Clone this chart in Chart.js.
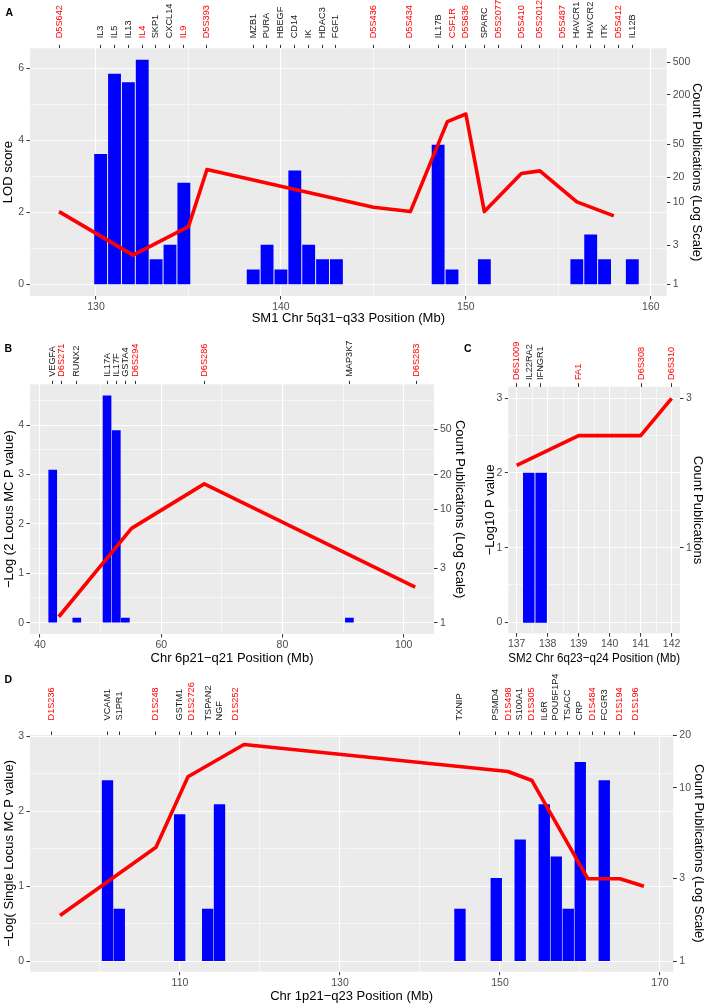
<!DOCTYPE html>
<html><head><meta charset="utf-8">
<script src="https://cdn.jsdelivr.net/npm/chart.js@4.4.1/dist/chart.umd.min.js"></script>
<style>
html,body{margin:0;padding:0;background:#fff;width:708px;height:1007px;overflow:hidden;}
body{position:relative;font-family:"Liberation Sans",Arial,sans-serif;}
canvas{position:absolute;}
.lab{position:absolute;font-weight:bold;font-size:10.5px;line-height:11px;color:#000;font-family:"Liberation Sans",Arial,sans-serif;}
</style></head><body>
<canvas id="cA" width="708" height="330" style="left:0;top:0"></canvas>
<canvas id="cB" width="470" height="342" style="left:0;top:330px"></canvas>
<canvas id="cC" width="238" height="342" style="left:470px;top:330px"></canvas>
<canvas id="cD" width="708" height="335" style="left:0;top:672px"></canvas>
<div class="lab" style="left:5.5px;top:6.5px">A</div>
<div class="lab" style="left:4.5px;top:343.3px">B</div>
<div class="lab" style="left:464px;top:342.6px">C</div>
<div class="lab" style="left:4.5px;top:674px">D</div>
<script>
// ---------- Panel A data ----------
const genesA = ['D5S642','IL3','IL5','IL13','IL4','SKP1','CXCL14','IL9','D5S393','MZB1','PURA','HBEGF','CD14','IK','HDAC3','FGF1','D5S436','D5S434','IL17B','CSF1R','D5S636','SPARC','D5S2077','D5S410','D5S2012','D5S487','HAVCR1','HAVCR2','ITK','D5S412','IL12B'];
const genePosA = [128.02,130.24,130.98,131.73,132.49,133.23,133.98,134.73,135.98,138.50,139.24,139.99,140.75,141.49,142.23,142.97,144.99,146.97,148.50,149.26,150.00,150.99,151.75,153.01,154.00,155.21,155.97,156.73,157.50,158.27,159.01];
const markerA = [1,0,0,0,1,0,0,1,1,0,0,0,0,0,0,0,1,1,0,1,1,0,1,1,1,1,0,0,0,1,0];
const barPosA = [130.25,131.0,131.75,132.5,133.25,134.0,134.75,138.5,139.25,140.0,140.75,141.5,142.25,143.0,148.5,149.25,151.0,156.0,156.75,157.5,159.0];
const barCountA = [38,359,282,531,2,3,17,1.5,3,1.5,24,3,2,2,49,1.5,2,2,4,2,2];
const linePosA = [128.0,132.0,135.0,136.0,145.0,147.0,149.0,150.0,151.0,153.0,154.0,156.0,158.0];
const lineLodA = [2.02,0.81,1.6,3.19,2.14,2.02,4.52,4.73,2.02,3.08,3.15,2.29,1.9];
const xTicksA = [130,135,140,145,150,155,160];
const yTicksA = [0,1,2,3,4,5,6];
const y2TicksA = [1,3,10,20,50,200,500];

// ---------- Panel B data ----------
const genesB = ['VEGFA','D6S271','RUNX2','IL17A','IL17F','GSTA4','D6S294','D6S286','MAP3K7','D6S283'];
const genePosB = [42.03,43.58,46.06,51.11,52.66,54.14,55.68,67.06,91.04,102.05];
const markerB = [0,1,0,0,0,0,1,1,0,1];
const barPosB = [42.1,46.07,51.06,52.59,54.08,91.04];
const barCountB = [22,1.1,99,49,1.1,1.1];
const linePosB = [43.1,55.1,67.1,101.9];
const linePB = [0.12,1.91,2.81,0.72];
const xTicksB = [40,50,60,70,80,90,100];
const yTicksB = [0,0.5,1,1.5,2,2.5,3,3.5,4,4.5];
const y2TicksB = [1,3,10,20,50];

// ---------- Panel C data ----------
const genesC = ['D6S1009','IL22RA2','IFNGR1','FA1','D6S308','D6S310'];
const genePosC = [137.0,137.41,137.78,139.0,141.03,142.0];
const markerC = [1,0,0,1,1,1];
const barPosC = [137.39,137.79];
const barCountC = [2,2];
const linePosC = [137,139,141,142];
const linePC = [2.1,2.5,2.5,3.0];
const xTicksC = [137,137.5,138,138.5,139,139.5,140,140.5,141,141.5,142];
const yTicksC = [0,0.5,1,1.5,2,2.5,3];
const y2TicksC = [1,3];

// ---------- Panel D data ----------
const genesD = ['D1S236','VCAM1','S1PR1','D1S248','GSTM1','D1S2726','TSPAN2','NGF','D1S252','TXNIP','PSMD4','D1S498','S100A1','D1S305','IL6R','POU5F1P4','TSACC','CRP','D1S484','FCGR3','D1S194','D1S196'];
const genePosD = [93.96,100.91,102.41,106.96,109.91,111.46,113.5,114.91,116.96,144.91,149.46,151.04,152.5,153.96,155.54,157.0,158.46,160.0,161.54,163.12,164.91,166.88];
const markerD = [1,0,0,1,0,1,0,0,1,0,0,1,0,1,0,0,0,0,1,0,1,1];
const barPosD = [100.94,102.41,109.96,113.46,114.94,145.0,149.54,152.53,155.54,157.04,158.54,160.04,163.04];
const barCountD = [11,2,7,2,8,2,3,5,8,4,2,14,11];
const linePosD = [95,107,111,118,151,154,161,165,168];
const linePD = [0.61,1.52,2.46,2.89,2.53,2.41,1.10,1.10,1.0];
const xTicksD = [100,110,120,130,140,150,160,170];
const yTicksD = [0,0.5,1,1.5,2,2.5,3];
const y2TicksD = [1,3,10,20];

// ---------- drawing ----------
const FONT = '"Liberation Sans", Arial, sans-serif';
const TICK_TXT = '#4D4D4D';
const TICK_MARK = '#333333';
const MINUS = '\u2212';
const GENE_FONT = 9.2;

function isMajor(v, step, off) {
  const q = (v - (off || 0)) / step;
  return Math.abs(q - Math.round(q)) < 1e-6;
}

const bgPlugin = {
  id: 'panelBg',
  beforeDraw(chart) {
    const a = chart.chartArea, ctx = chart.ctx;
    ctx.save();
    ctx.fillStyle = '#EBEBEB';
    ctx.fillRect(a.left, a.top, a.right - a.left, a.bottom - a.top);
    ctx.restore();
  }
};

function build(p) {
  const cv = document.getElementById(p.id);
  const W = cv.width, H = cv.height;
  const tickFont = {family: FONT, size: 10.5};
  const titleFont = {family: FONT, size: 13};
  new Chart(cv, {
    type: 'bar',
    data: {
      datasets: [
        {
          type: 'line',
          data: p.lineX.map((x, i) => ({x: x, y: p.lineY[i]})),
          xAxisID: 'x', yAxisID: 'y',
          borderColor: '#FF0000', borderWidth: 3.6,
          pointRadius: 0, tension: 0, fill: false,
          borderCapStyle: 'butt', borderJoinStyle: 'round', order: 0
        },
        {
          type: 'bar',
          data: p.barX.map((x, i) => ({x: x, y: p.barY[i]})),
          xAxisID: 'x', yAxisID: 'y2',
          backgroundColor: '#0000FF', borderWidth: 0,
          barThickness: p.barW, base: p.barBase, order: 1
        }
      ]
    },
    options: {
      responsive: false, animation: false, events: [],
      layout: {padding: 0, autoPadding: false},
      plugins: {legend: {display: false}, tooltip: {enabled: false}},
      scales: {
        x: {
          type: 'linear', position: 'bottom', min: p.xMin, max: p.xMax,
          offset: false, bounds: 'data',
          afterBuildTicks: s => { s.ticks = p.xTicks.map(v => ({value: v})); },
          afterFit: s => { s.height = H - p.box.b; },
          ticks: {
            autoSkip: false, maxRotation: 0, minRotation: 0, padding: 1.5,
            color: TICK_TXT, font: tickFont,
            callback: v => isMajor(v, p.xMajor, p.xOff) ? String(v) : ''
          },
          grid: {
            offset: false, color: '#FFFFFF',
            lineWidth: c => (c.tick && isMajor(c.tick.value, p.xMajor, p.xOff)) ? 1.1 : 0.55,
            tickLength: 3.5, tickWidth: 1,
            tickColor: c => (c.tick && isMajor(c.tick.value, p.xMajor, p.xOff)) ? TICK_MARK : 'rgba(0,0,0,0)'
          },
          border: {display: false},
          title: {display: true, text: p.xTitle, color: '#000', font: titleFont, padding: {top: 0, bottom: p.xTitlePad}}
        },
        x2: {
          type: 'linear', position: 'top', min: p.xMin, max: p.xMax,
          offset: false, bounds: 'data',
          afterBuildTicks: s => { s.ticks = p.genePos.map(v => ({value: v})); },
          afterFit: s => { s.height = p.box.t; },
          ticks: {
            autoSkip: false, minRotation: 90, maxRotation: 90, padding: p.topPad,
            labelOffset: GENE_FONT * 1.2,
            color: c => p.marker[c.index] ? '#FF0000' : '#1A1A1A',
            font: {family: FONT, size: GENE_FONT},
            callback: (v, i) => p.genes[i]
          },
          grid: {offset: false, drawOnChartArea: false, tickLength: 3.5, tickWidth: 1, tickColor: TICK_MARK},
          border: {display: false}
        },
        y: {
          type: 'linear', position: 'left', min: p.yMin, max: p.yMax, bounds: 'data',
          afterBuildTicks: s => { s.ticks = p.yTicks.map(v => ({value: v})); },
          afterFit: s => { s.width = p.box.l; },
          ticks: {
            autoSkip: false, padding: 2.5, color: TICK_TXT, font: tickFont,
            callback: v => isMajor(v, p.yMajor, 0) ? String(v) : ''
          },
          grid: {
            color: '#FFFFFF',
            lineWidth: c => (c.tick && isMajor(c.tick.value, p.yMajor, 0)) ? 1.1 : 0.55,
            tickLength: 3.5, tickWidth: 1,
            tickColor: c => (c.tick && isMajor(c.tick.value, p.yMajor, 0)) ? TICK_MARK : 'rgba(0,0,0,0)'
          },
          border: {display: false},
          title: {display: true, text: p.yTitle, color: '#000', font: titleFont, padding: {top: p.yTitlePad, bottom: 0}}
        },
        y2: {
          type: p.y2Type, position: 'right', min: p.y2Min, max: p.y2Max, bounds: 'data',
          afterBuildTicks: s => { s.ticks = p.y2Ticks.map(v => ({value: v})); },
          afterFit: s => { s.width = W - p.box.r; },
          ticks: {autoSkip: false, padding: 2.5, color: TICK_TXT, font: tickFont, callback: v => String(v)},
          grid: {drawOnChartArea: false, tickLength: 3.5, tickWidth: 1, tickColor: TICK_MARK},
          border: {display: false},
          title: {display: true, text: p.y2Title, color: '#000', font: titleFont, padding: {top: p.y2TitlePad, bottom: 0}}
        }
      }
    },
    plugins: [bgPlugin]
  });
}

build({
  id: 'cA', box: {l: 30, t: 48.3, r: 666.7, b: 296},
  xMin: 126.43, xMax: 160.86, xTicks: xTicksA, xMajor: 10, xOff: 0,
  yMin: -0.325, yMax: 6.556, yTicks: yTicksA, yMajor: 2,
  y2Type: 'logarithmic', y2Min: 0.721, y2Max: 737, y2Ticks: y2TicksA,
  genes: genesA, genePos: genePosA, marker: markerA, topPad: 6.5,
  barX: barPosA, barY: barCountA, barW: 12.2, barBase: 1,
  lineX: linePosA, lineY: lineLodA,
  xTitle: 'SM1 Chr 5q31' + MINUS + 'q33 Position (Mb)', xTitlePad: 4.2,
  yTitle: 'LOD score', yTitlePad: 0.5,
  y2Title: 'Count Publications (Log Scale)', y2TitlePad: 3.5
});

build({
  id: 'cB', box: {l: 30, t: 54.3, r: 434, b: 304},
  xMin: 38.35, xMax: 105.0, xTicks: xTicksB, xMajor: 20, xOff: 0,
  yMin: -0.229, yMax: 4.826, yTicks: yTicksB, yMajor: 1,
  y2Type: 'logarithmic', y2Min: 0.796, y2Max: 125, y2Ticks: y2TicksB,
  genes: genesB, genePos: genePosB, marker: markerB, topPad: 4,
  barX: barPosB, barY: barCountB, barW: 8, barBase: 1,
  lineX: linePosB, lineY: linePB,
  xTitle: 'Chr 6p21' + MINUS + 'q21 Position (Mb)', xTitlePad: 6.2,
  yTitle: MINUS + 'Log (2 Locus MC P value)', yTitlePad: 1.4,
  y2Title: 'Count Publications (Log Scale)', y2TitlePad: 2.2
});

build({
  id: 'cC', box: {l: 38.3, t: 56.7, r: 210, b: 303.3},
  xMin: 136.73, xMax: 142.27, xTicks: xTicksC, xMajor: 1, xOff: 0,
  yMin: -0.147, yMax: 3.155, yTicks: yTicksC, yMajor: 1,
  y2Type: 'linear', y2Min: -0.147, y2Max: 3.155, y2Ticks: y2TicksC,
  genes: genesC, genePos: genePosC, marker: markerC, topPad: 3.2,
  barX: barPosC, barY: barCountC, barW: 10.8, barBase: 0,
  lineX: linePosC, lineY: linePC,
  xTitle: 'SM2 Chr 6q23' + MINUS + 'q24 Position (Mb)', xTitlePad: 5.9,
  yTitle: MINUS + 'Log10 P value', yTitlePad: 12.2,
  y2Title: 'Count Publications', y2TitlePad: 2.2
});

build({
  id: 'cD', box: {l: 30, t: 63, r: 673.3, b: 299.7},
  xMin: 91.25, xMax: 171.67, xTicks: xTicksD, xMajor: 20, xOff: 10,
  yMin: -0.139, yMax: 3.017, yTicks: yTicksD, yMajor: 1,
  y2Type: 'logarithmic', y2Min: 0.871, y2Max: 20.1, y2Ticks: y2TicksD,
  genes: genesD, genePos: genePosD, marker: markerD, topPad: 11,
  barX: barPosD, barY: barCountD, barW: 10.7, barBase: 1,
  lineX: linePosD, lineY: linePD,
  xTitle: 'Chr 1p21' + MINUS + 'q23 Position (Mb)', xTitlePad: 2.5,
  yTitle: MINUS + 'Log( Single Locus MC P value)', yTitlePad: 1.4,
  y2Title: 'Count Publications (Log Scale)', y2TitlePad: 1.9
});
</script>
</body></html>
